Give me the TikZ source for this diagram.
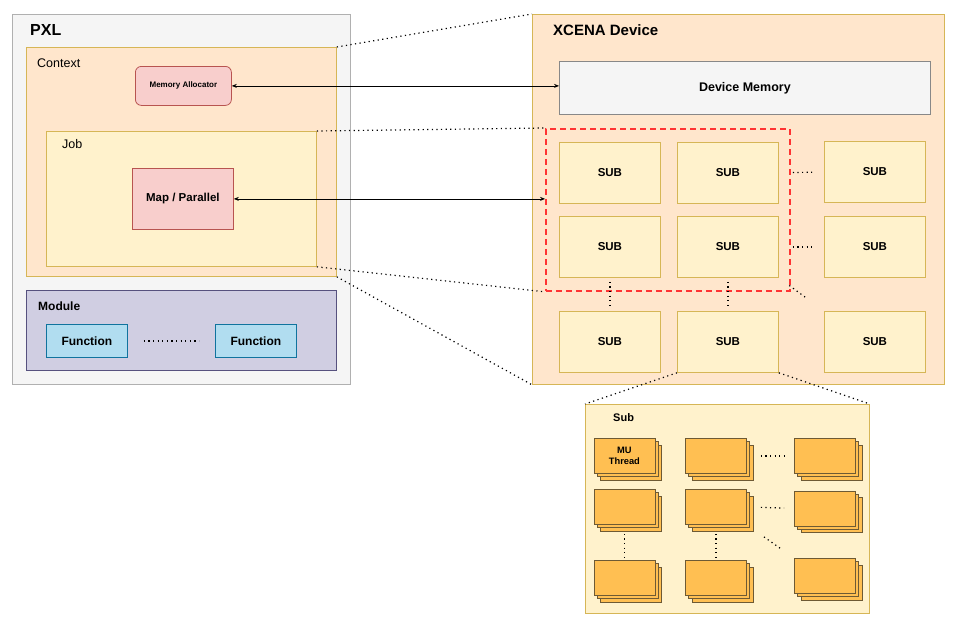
\documentclass[tikz,border=0pt]{standalone}
\usepackage{fontspec}
\setmainfont{Liberation Sans}
\usetikzlibrary{arrows.meta}
\definecolor{pxlfill}{HTML}{F5F5F5}
\definecolor{pxlline}{HTML}{B0B0B0}
\definecolor{orfill}{HTML}{FFE6CC}
\definecolor{yfill}{HTML}{FFF2CC}
\definecolor{yline}{HTML}{D6B656}
\definecolor{rfill}{HTML}{F8CECC}
\definecolor{rline}{HTML}{B85450}
\definecolor{pfill}{HTML}{D0CEE2}
\definecolor{pline}{HTML}{56517E}
\definecolor{bfill}{HTML}{B1DDF0}
\definecolor{bline}{HTML}{10739E}
\definecolor{dmline}{HTML}{888888}
\definecolor{redd}{HTML}{FF3333}
\definecolor{tfill}{HTML}{FFBF52}
\definecolor{tline}{HTML}{6E5A34}
\newcommand{\fsz}[1]{\fontsize{#1}{#1}\selectfont}
\tikzset{
  box/.style={draw, line width=0.8pt, inner sep=0pt, anchor=north west},
  pxlbox/.style={box, fill=pxlfill, draw=pxlline},
  orbox/.style={box, fill=orfill, draw=yline},
  ybox/.style={box, fill=yfill, draw=yline},
  rbox/.style={box, fill=rfill, draw=rline},
  subbox/.style={ybox, minimum width=101, minimum height=61, font=\fsz{11.5}\bfseries},
  funcbox/.style={box, fill=bfill, draw=bline, minimum width=81, minimum height=33, font=\fsz{12}\bfseries},
  thr/.style={draw=tline, fill=tfill, line width=0.8pt, inner sep=0pt, anchor=north west, minimum width=61, minimum height=35},
  lbl/.style={anchor=west, inner sep=0pt},
  dotline/.style={line width=1.2pt, dash pattern=on 1.2pt off 3.4pt, line cap=butt},
  biarrow/.style={line width=0.7pt, {Stealth[length=5pt,width=4pt]}-{Stealth[length=5pt,width=4pt]}},
}
% thread stack: name, x, y, text
\newcommand{\thrstack}[4]{%
  \node[thr] at (#2+6.6,#3+6.6) {};
  \node[thr] at (#2+3.3,#3+3.3) {};
  \node[thr, align=center, font=\fsz{9.3}\bfseries] (#1) at (#2,#3) {#4};
}
\begin{document}
\begin{tikzpicture}[x=1pt,y=-1pt]
\useasboundingbox (0,0) rectangle (957,624);
% PXL
\node[pxlbox, minimum width=338, minimum height=370] (pxl) at (12,14) {};
\node[lbl, font=\fsz{16}\bfseries] (pxlt) at (30,30) {PXL};
\node[orbox, minimum width=310, minimum height=229] (ctx) at (26,47) {};
\node[lbl, font=\fsz{12.5}] (ctxt) at (37,63) {Context};
\node[rbox, rounded corners=6pt, minimum width=96, minimum height=39, font=\fsz{8}\bfseries] (mem) at (135,66) {Memory Allocator};
\node[ybox, minimum width=270, minimum height=135] (job) at (46,131) {};
\node[lbl, font=\fsz{12.5}] (jobt) at (62,144) {Job};
\node[rbox, minimum width=101, minimum height=61, font=\fsz{11.5}\bfseries] (map) at (132,168) {Map / Parallel};
\node[box, fill=pfill, draw=pline, minimum width=310, minimum height=80] (mod) at (26,290) {};
\node[lbl, font=\fsz{12}\bfseries] (modt) at (38,306) {Module};
\node[funcbox] (f1) at (46,324) {Function};
\node[funcbox] (f2) at (215,324) {Function};
\draw[dotline, shorten <=16pt, shorten >=16pt] (f1.east) -- (f2.west);
% XCENA
\node[orbox, minimum width=412, minimum height=370] (xc) at (532,14) {};
\node[lbl, font=\fsz{15}\bfseries] (xct) at (553,30) {XCENA Device};
\node[box, fill=pxlfill, draw=dmline, minimum width=371, minimum height=53, font=\fsz{12.5}\bfseries] (dm) at (559,61) {Device Memory};
\node[subbox] (s11) at (559,142) {SUB};
\node[subbox] (s12) at (677,142) {SUB};
\node[subbox] (s13) at (824,141) {SUB};
\node[subbox] (s21) at (559,216) {SUB};
\node[subbox] (s22) at (677,216) {SUB};
\node[subbox] (s23) at (824,216) {SUB};
\node[subbox] (s31) at (559,311) {SUB};
\node[subbox] (s32) at (677,311) {SUB};
\node[subbox] (s33) at (824,311) {SUB};
\node[draw=redd, line width=1.8pt, dash pattern=on 6pt off 4pt, inner sep=0pt, anchor=north west, minimum width=244, minimum height=162] (red) at (545,128) {};
\draw[dotline, shorten <=14pt, shorten >=12pt] (s12.east) -- (s13.west);
\draw[dotline, shorten <=14pt, shorten >=12pt] (s22.east) -- (s23.west);
\draw[dotline, shorten <=4pt, shorten >=4pt] (s21.south) -- (s31.north);
\draw[dotline, shorten <=4pt, shorten >=4pt] (s22.south) -- (s32.north);
\draw[dotline, shorten <=13pt, shorten >=21pt] (s22.south east) -- (s33.north west);
% arrows
\draw[biarrow] (mem.east) -- (mem.east -| dm.west);
\draw[biarrow] (map.east) -- (map.east -| red.west);
% zoom lines
\draw[dotline] (ctx.north east) -- (xc.north west);
\draw[dotline] (job.north east) -- (red.north west);
\draw[dotline] (job.south east) -- (red.south west);
\draw[dotline] (ctx.south east) -- (xc.south west);
% Sub detail
\node[ybox, minimum width=284, minimum height=209] (sub) at (585,404) {};
\node[lbl, font=\fsz{11}\bfseries] (subt) at (613,418) {Sub};
\draw[dotline] (s32.south west) -- (sub.north west);
\draw[dotline] (s32.south east) -- (sub.north east);
\thrstack{t11}{593.5}{438}{MU\\[1pt]Thread}
\thrstack{t12}{685}{438}{}
\thrstack{t13}{794}{438}{}
\thrstack{t21}{593.5}{489}{}
\thrstack{t22}{685}{489}{}
\thrstack{t23}{794}{490.5}{}
\thrstack{t31}{593.5}{560}{}
\thrstack{t32}{685}{560}{}
\thrstack{t33}{794}{558}{}
\draw[dotline, shorten <=14pt, shorten >=10pt] (t12.east) -- (t13.west);
\draw[dotline, shorten <=14pt, shorten >=10pt] (t22.east) -- (t23.west);
\draw[dotline, shorten <=9pt, shorten >=3pt] (t21.south) -- (t31.north);
\draw[dotline, shorten <=9pt, shorten >=3pt] (t22.south) -- (t32.north);
\draw[dotline, shorten <=21pt, shorten >=15pt] (t22.south east) -- (t33.north west);
\end{tikzpicture}
\end{document}
